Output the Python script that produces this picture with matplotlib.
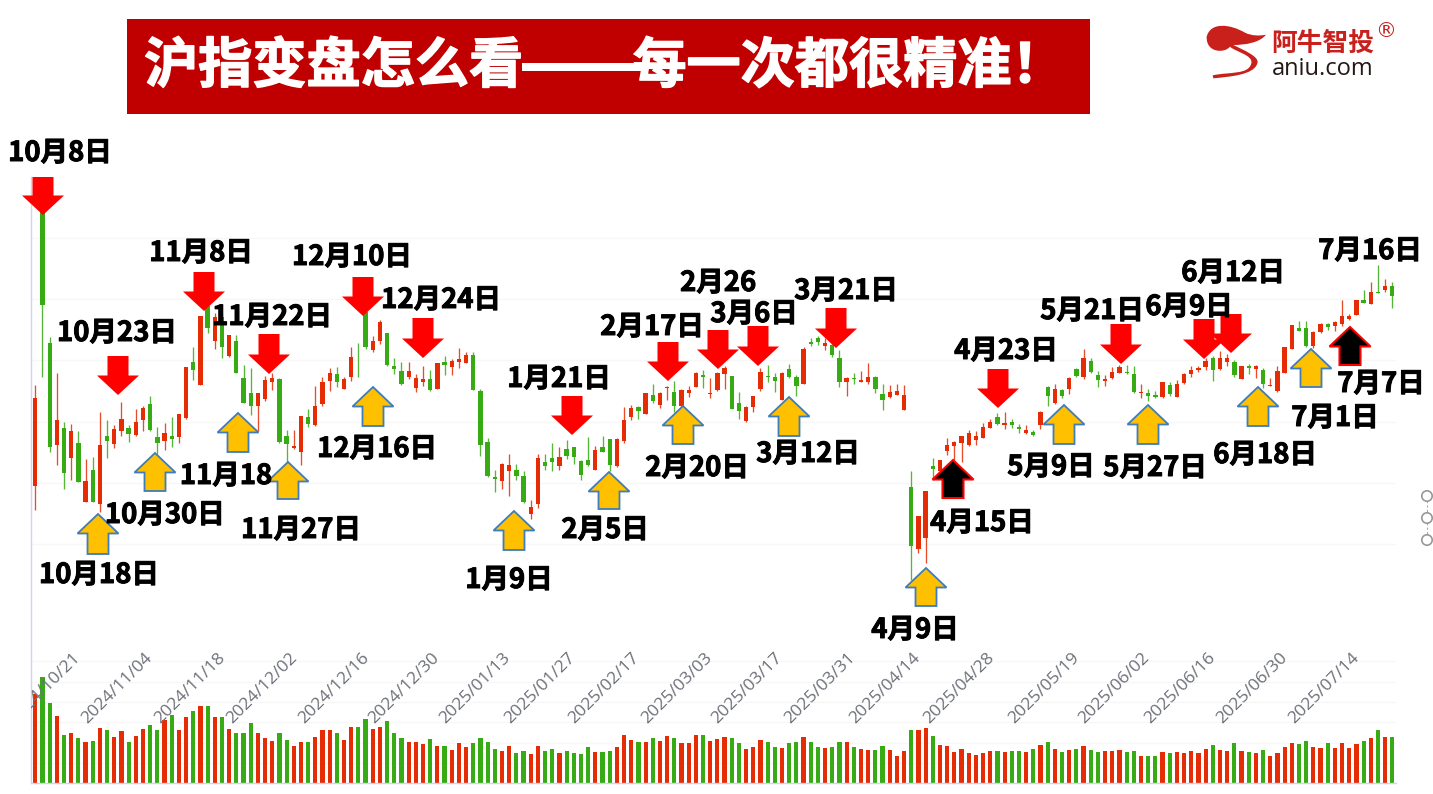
import matplotlib
matplotlib.use("Agg")
import matplotlib.pyplot as plt
import matplotlib.patheffects as pe
from matplotlib.patches import Polygon, Rectangle, PathPatch, Circle
from matplotlib.path import Path

W, H = 1433, 794
CJK = ['Noto Sans CJK SC', 'DejaVu Sans']
plt.rcParams['font.family'] = CJK

# ---------- data ----------
opens = [
 3195,3674,3428,3262,3289,3240,3266,3169,3221,3166,
 3277,3264,3285,3289,3279,3302,3328,3275,3269,3276,
 3275,3306,3397,3359,3488,3432,3471,3407,3431,3371,
 3346,3325,3337,3364,3369,3276,3257,3251,3308,3295,
 3329,3366,3377,3353,3372,3404,3479,3416,3432,3444,
 3390,3382,3372,3355,3365,3369,3354,3397,3389,3398,
 3396,3408,3350,3267,3210,3203,3220,3222,3212,3149,
 3165,3235,3240,3227,3255,3258,3236,3238,3222,3258,
 3271,3227,3268,3308,3324,3312,3344,3327,3355,3349,
 3326,3347,3357,3376,3345,3352,3378,3375,3330,3301,
 3324,3353,3374,3373,3335,3386,3372,3361,3430,3436,
 3424,3425,3403,3365,3371,3365,3364,3372,3345,3340,
 3344,3319,3194,3093,3110,3228,3220,3252,3260,3266,
 3262,3270,3273,3290,3308,3295,3300,3292,3281,3283,
 3295,3356,3330,3351,3353,3386,3373,3399,3376,3366,
 3371,3379,3381,3377,3346,3347,3343,3340,3359,3340,
 3363,3377,3384,3389,3403,3386,3398,3398,3370,3390,
 3386,3385,3358,3350,3380,3419,3452,3452,3423,3446,
 3459,3456,3459,3467,3474,3499,3492,3512,3514,3521]
closes = [
 3338,3490,3259,3302,3217,3285,3202,3204,3169,3262,
 3269,3288,3304,3280,3300,3323,3286,3266,3281,3272,
 3312,3389,3384,3472,3453,3471,3422,3441,3380,3331,
 3325,3346,3368,3371,3267,3264,3261,3310,3296,3326,
 3364,3380,3365,3369,3405,3403,3422,3432,3462,3393,
 3386,3361,3383,3371,3369,3352,3395,3393,3399,3402,
 3409,3352,3262,3211,3206,3231,3230,3211,3169,3161,
 3241,3228,3235,3243,3244,3243,3213,3230,3253,3251,
 3229,3271,3303,3323,3318,3347,3333,3347,3357,3325,
 3352,3352,3380,3373,3347,3380,3388,3321,3318,3324,
 3342,3381,3373,3367,3380,3372,3358,3419,3427,3430,
 3428,3409,3365,3371,3369,3368,3373,3353,3335,3349,
 3350,3343,3097,3147,3187,3223,3237,3262,3267,3277,
 3281,3277,3292,3300,3296,3298,3295,3288,3287,3278,
 3316,3342,3353,3342,3371,3374,3404,3381,3368,3369,
 3381,3389,3379,3348,3348,3341,3340,3364,3345,3362,
 3378,3385,3387,3399,3384,3403,3403,3376,3390,3388,
 3390,3362,3360,3382,3421,3457,3448,3423,3446,3459,
 3455,3462,3473,3473,3498,3494,3511,3510,3521,3505]
highs = [
 3360,3674,3438,3380,3299,3296,3285,3239,3242,3315,
 3303,3295,3332,3295,3320,3325,3342,3292,3297,3307,
 3312,3389,3422,3472,3509,3477,3477,3442,3442,3392,
 3387,3347,3375,3379,3371,3287,3287,3310,3320,3358,
 3373,3387,3389,3373,3421,3429,3494,3440,3466,3444,
 3403,3397,3397,3378,3391,3385,3395,3407,3402,3420,
 3413,3414,3353,3274,3221,3232,3247,3231,3219,3173,
 3247,3247,3266,3258,3270,3259,3238,3275,3261,3276,
 3271,3273,3324,3327,3326,3347,3361,3349,3358,3367,
 3353,3358,3381,3385,3371,3381,3390,3375,3349,3326,
 3342,3388,3392,3379,3381,3394,3376,3422,3437,3440,
 3436,3428,3416,3373,3380,3383,3395,3374,3362,3360,
 3362,3359,3220,3147,3187,3240,3237,3274,3269,3277,
 3287,3285,3297,3304,3314,3315,3305,3296,3295,3286,
 3317,3358,3361,3353,3372,3388,3418,3403,3382,3376,
 3389,3393,3392,3391,3362,3353,3350,3365,3364,3368,
 3380,3390,3391,3403,3407,3415,3410,3400,3390,3394,
 3392,3387,3371,3390,3422,3458,3464,3464,3448,3460,
 3461,3464,3498,3475,3499,3515,3527,3556,3532,3527]
lows = [
 3156,3372,3250,3229,3190,3205,3202,3169,3169,3153,
 3240,3257,3277,3267,3277,3284,3284,3248,3254,3259,
 3265,3304,3368,3359,3445,3419,3404,3406,3380,3331,
 3311,3285,3334,3351,3266,3235,3255,3229,3291,3293,
 3325,3350,3356,3353,3366,3373,3418,3414,3427,3391,
 3378,3360,3370,3348,3358,3350,3353,3376,3376,3387,
 3395,3351,3244,3209,3186,3191,3178,3205,3168,3142,
 3160,3221,3219,3221,3239,3231,3205,3228,3221,3250,
 3220,3226,3265,3302,3305,3312,3331,3323,3335,3316,
 3322,3340,3356,3355,3338,3350,3354,3320,3305,3299,
 3315,3350,3365,3348,3335,3371,3341,3361,3423,3425,
 3416,3406,3356,3342,3362,3364,3362,3347,3319,3339,
 3343,3319,3042,3086,3070,3205,3217,3246,3237,3235,
 3260,3262,3273,3289,3295,3288,3289,3281,3280,3277,
 3288,3326,3329,3339,3345,3372,3369,3380,3357,3358,
 3369,3379,3378,3347,3338,3334,3339,3339,3341,3340,
 3362,3373,3381,3385,3366,3385,3391,3372,3369,3378,
 3371,3355,3358,3348,3379,3418,3447,3422,3420,3444,
 3450,3448,3456,3465,3474,3493,3492,3509,3512,3486]
volumes = [
 268,319,241,202,145,151,136,124,127,166,
 160,139,157,124,142,163,175,160,190,205,
 160,199,217,232,232,199,199,163,151,151,
 181,151,136,127,151,130,112,124,124,139,
 160,160,151,130,169,169,193,163,169,187,
 151,136,124,124,118,133,112,112,100,121,
 109,121,136,124,103,97,112,91,97,88,
 112,97,103,91,97,91,88,109,94,94,
 97,109,145,130,124,124,136,127,142,136,
 121,121,145,145,127,133,139,136,121,103,
 109,130,124,109,106,121,124,139,124,109,
 106,109,124,124,109,103,100,100,112,100,
 82,97,160,160,166,142,115,112,94,103,
 91,85,91,97,97,94,97,97,94,103,
 115,124,103,94,100,103,112,100,94,97,
 97,100,94,97,82,82,82,94,91,94,
 91,97,91,103,115,100,97,121,97,94,
 91,100,82,91,109,121,118,127,109,106,
 121,106,121,106,118,127,136,160,139,139]
date_labels = ['2024/10/21','2024/11/04','2024/11/18','2024/12/02','2024/12/16',
               '2024/12/30','2025/01/13','2025/01/27','2025/02/17','2025/03/03',
               '2025/03/17','2025/03/31','2025/04/14','2025/04/28','2025/05/19',
               '2025/06/02','2025/06/16','2025/06/30','2025/07/14']
price_grid = [3100, 3200, 3300, 3400, 3500, 3600]
vol_grid = [61, 122, 183, 244, 305, 366]

# ---------- layout / annotation placement (pixels) ----------
date_label_ends = [78,150,223,295,367,437,508,573,637,710,780,853,918,992,1077,1147,1213,1285,1357]
red_arrows = [(43,177,215),(118,356,395),(204,272,311),(269,334,374),(363,277,316),(423,318,358),
              (572,396,435),(668,342,381),(718,330,369),(758,326,366),(836,308,348),(998,369,408),
              (1121,324,364),(1204,319,359),(1231,314,353)]
orange_arrows = [(98,514,554),(155,453,491),(238,413,452),(288,462,499),(373,387,426),(514,511,550),
                 (609,472,509),(683,406,444),(789,397,436),(926,568,606),(1064,405,444),(1148,405,444),
                 (1258,387,426),(1311,349,387)]
black_arrows = [(953,460,498),(1350,327,365)]
notes = [('10月8日',60,153),('10月23日',117,333),('11月8日',201,253),('11月22日',272,317),
         ('12月10日',352,257),('12月24日',441,300),('1月21日',559,379),('2月17日',652,327),
         ('2月26',718,283),('3月6日',754,314),('3月21日',846,291),('4月23日',1006,351),
         ('5月21日',1092,311),('6月9日',1189,307),('6月12日',1233,273),('7月16日',1370,251),
         ('7月7日',1381,384),('7月1日',1335,418),('6月18日',1265,455),('5月27日',1155,468),
         ('5月9日',1051,467),('4月15日',982,523),('4月9日',915,630),('3月12日',808,454),
         ('2月20日',697,468),('2月5日',605,530),('1月9日',509,580),('12月16日',377,449),
         ('11月27日',301,530),('11月18',226,476),('10月30日',165,515),('10月18日',99,575)]

RED, GREEN = '#E62C05', '#36AB14'
GRID = '#F7F7F7'
AXIS = '#CCD6EB'

def box(x0, y0, x1, y1):
    return [x0 / W, 1 - y1 / H, (x1 - x0) / W, (y1 - y0) / H]

fig = plt.figure(figsize=(W / 100, H / 100), dpi=100, facecolor='white')
X0, X1 = 31.3, 1396
xlim = ((X0 - 35.3) / 7.18, (X1 - 35.3) / 7.18)
idx = list(range(len(opens)))
colors = [RED if c > o else GREEN for o, c in zip(opens, closes)]

# ---------- price panel ----------
ax = fig.add_axes(box(X0, 190, X1, 640))
ax.set_xlim(*xlim)
ax.set_ylim(3200 + (483 - 640) * 1.63, 3200 + (483 - 190) * 1.63)
ax.axis('off')
for g in price_grid:
    ax.axhline(g, color=GRID, lw=0.9, zorder=0)
ax.vlines(idx, lows, highs, colors=colors, lw=0.95, alpha=0.85, zorder=2)
ax.bar(idx, [abs(c - o) for o, c in zip(opens, closes)], bottom=[min(o, c) for o, c in zip(opens, closes)],
       width=0.6, color=colors, lw=0, zorder=3)

# ---------- volume panel ----------
vax = fig.add_axes(box(X0, 640, X1, 783.3))
vax.set_xlim(*xlim)
vax.set_ylim(0, 430)
vax.axis('off')
for g in vol_grid:
    vax.axhline(g, color=GRID, lw=0.9, zorder=0)
vax.bar(idx, volumes, width=0.58, color=colors, lw=0, zorder=2)

# ---------- overlay ----------
ov = fig.add_axes([0, 0, 1, 1])
ov.set_xlim(0, W)
ov.set_ylim(H, 0)
ov.axis('off')
ov.patch.set_alpha(0)

ov.plot([X0, X0], [177, 783.3], color=AXIS, lw=1, zorder=1)
ov.plot([X0, X1], [783.3, 783.3], color=AXIS, lw=1, zorder=1)

clip = Rectangle((X0, 600), X1 - X0, 194, transform=ov.transData)
for lab, xe in zip(date_labels, date_label_ends):
    t = ov.text(xe - 6, 650, lab, rotation=45, ha='right', va='top', rotation_mode='anchor',
                fontsize=12.6, color='#6E7079', family=['Open Sans', 'DejaVu Sans'], zorder=2)
    t.set_clip_path(clip)
    t.set_clip_on(True)

def down_arrow(x, top, tip, **kw):
    base = tip - 19.5
    ov.add_patch(Polygon([(x - 10.5, top), (x + 10.5, top), (x + 10.5, base), (x + 21, base), (x, tip),
                          (x - 21, base), (x - 10.5, base)], closed=True, zorder=5, **kw))

def up_arrow(x, tip, bottom, **kw):
    base = tip + 19.5
    ov.add_patch(Polygon([(x - 10.5, bottom), (x + 10.5, bottom), (x + 10.5, base), (x + 20.5, base), (x, tip),
                          (x - 20.5, base), (x - 10.5, base)], closed=True, zorder=5, **kw))

for x, t, b in red_arrows:
    down_arrow(x, t, b, facecolor='#FF0000', edgecolor='none')
for x, t, b in orange_arrows:
    up_arrow(x, t, b, facecolor='#FFC000', edgecolor='#3E7CBA', lw=1.3)
for x, t, b in black_arrows:
    up_arrow(x, t, b, facecolor='#000000', edgecolor='#FF0000', lw=1.5)

for s, x, y in notes:
    ov.text(x, y, s, ha='center', va='center', fontsize=19.8, fontweight='bold', color='black', zorder=6,
            path_effects=[pe.withStroke(linewidth=0.7, foreground='black')])

# title banner
ov.add_patch(Rectangle((127, 19), 963, 95, facecolor='#C00000', edgecolor='none', zorder=1))
ov.add_patch(Rectangle((522, 63), 119, 8, facecolor='white', edgecolor='none', zorder=2))
ov.text(144, 67, '沪指变盘怎么看——\u2009每一次都很精准！', ha='left', va='center', color='white',
        fontsize=39, fontweight='black', zorder=3,
        path_effects=[pe.withStroke(linewidth=1.0, foreground='white')])

# logo
LOGO = '#C9201C'
def lz(x, y):
    return (1180 + x / 3, 10 + y / 3)
verts = [lz(80, 80), lz(92, 35), lz(150, 42), lz(195, 68), lz(215, 78), lz(240, 78), lz(258, 74),
         lz(240, 98), lz(195, 105), lz(160, 105),
         lz(190, 120), lz(240, 140), lz(232, 160), lz(222, 195), lz(150, 200), lz(100, 205),
         lz(98, 196), lz(150, 185), lz(205, 195), lz(214, 160), lz(220, 135), lz(165, 125), lz(150, 110),
         lz(135, 130), lz(78, 130), lz(80, 80)]
codes = [Path.MOVETO] + [Path.CURVE4] * 9 + [Path.CURVE4] * 6 + [Path.LINETO] + [Path.CURVE4] * 6 + [Path.CURVE4] * 3
ov.add_patch(PathPatch(Path(verts, codes), facecolor=LOGO, edgecolor='none', zorder=2))
ov.text(1323, 43, '阿牛智投', ha='center', va='center', fontsize=18.5, fontweight='bold', color=LOGO, zorder=2)
ov.text(1323, 69, 'aniu.com', ha='center', va='center', fontsize=17, color='#231815',
        family=['Open Sans', 'DejaVu Sans'], zorder=2)
ov.text(1386, 31, '®', ha='center', va='center', fontsize=15, color=LOGO, family=['DejaVu Sans'], zorder=2)

# right-side markers
ov.plot([1427, 1427], [496, 540], color='#AAAAAA', lw=0.8, ls=(0, (2, 2)), zorder=1)
for y in (496, 518, 540):
    ov.add_patch(Circle((1427, y), 5.2, facecolor='white', edgecolor='#999999', lw=1.2, zorder=2))

fig.savefig('out.png', dpi=100, facecolor='white')
